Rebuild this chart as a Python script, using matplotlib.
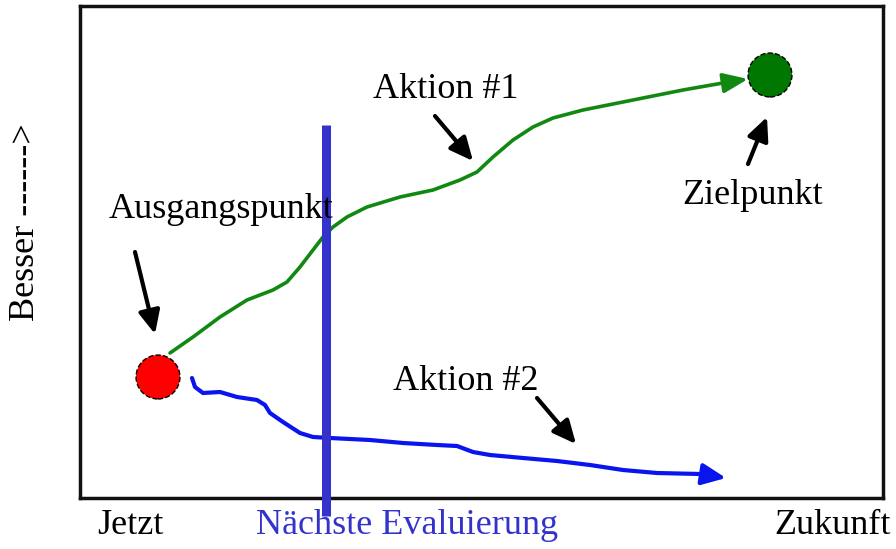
import matplotlib.pyplot as plt

# path of "Aktion #1" (green) and "Aktion #2" (blue), in screen-like units
green_x = [170, 193, 220, 247, 273, 287, 300, 313, 323, 333, 347, 367, 400, 433, 460, 477,
           493, 513, 533, 553, 583, 633, 683, 723, 748]
green_y = [353, 337, 317, 300, 290, 282, 267, 250, 237, 227, 217, 207, 197, 190, 180, 172,
           157, 140, 127, 118, 110, 100, 90, 83, 79]
blue_x = [192, 195, 203, 220, 237, 257, 265, 270, 283, 300, 313, 330, 370, 403, 437, 457,
          473, 490, 523, 557, 590, 623, 657, 700, 726]
blue_y = [378, 387, 393, 392, 397, 400, 405, 413, 422, 433, 437, 438, 440, 443, 445, 446,
          452, 455, 458, 461, 465, 470, 473, 474, 478]

start_pt = (158, 377)
goal_pt = (770, 75)
eval_x = 326

# (label, text x, text y, arrow from, arrow to)
notes = [
    ('Ausgangspunkt', 221, 210, (135, 252), (155, 334)),
    ('Aktion #1', 446, 90, (435, 116), (473, 161)),
    ('Aktion #2', 466, 382, (537, 398), (576, 444)),
    ('Zielpunkt', 753, 196, (748, 164), (767, 117)),
]

plt.rcParams['font.family'] = ['Liberation Serif', 'DejaVu Serif']
fs = 26

fig = plt.figure(figsize=(8.96, 5.49), dpi=100)
ax = fig.add_axes([80 / 896, 1 - 498 / 549, 803 / 896, 492 / 549])
ax.set_xlim(80, 883)
ax.set_ylim(498, 6)
ax.set_xticks([])
ax.set_yticks([])
for s in ax.spines.values():
    s.set_linewidth(2.5)
    s.set_color('#111111')

# green path with arrow head
ax.plot(green_x[:-1], green_y[:-1], color='#118811', lw=2.6, solid_capstyle='round')
ax.annotate('', xy=(green_x[-1], green_y[-1]), xytext=(green_x[-2], green_y[-2]),
            arrowprops=dict(arrowstyle='-|>,head_length=1.5,head_width=0.6', color='#118811',
                            lw=2.6, shrinkA=0, shrinkB=0))

# blue path with arrow head
ax.plot(blue_x[:-1], blue_y[:-1], color='#0a14ee', lw=3, solid_capstyle='round')
ax.annotate('', xy=(blue_x[-1], blue_y[-1]), xytext=(blue_x[-2], blue_y[-2]),
            arrowprops=dict(arrowstyle='-|>,head_length=1.45,head_width=0.65', color='#0a14ee',
                            lw=3, shrinkA=0, shrinkB=0))

# next evaluation line, running past the bottom of the frame
ax.plot([eval_x, eval_x], [125, 516], color='#3333cc', lw=6.5, clip_on=False, zorder=4,
        solid_capstyle='butt')

ax.scatter([start_pt[0]], [start_pt[1]], s=1000, color='#ff0000', edgecolor='black',
           linewidth=1, linestyle='--', zorder=5)
ax.scatter([goal_pt[0]], [goal_pt[1]], s=1000, color='#007700', edgecolor='black',
           linewidth=1, linestyle='--', zorder=5)

for label, tx, ty, a0, a1 in notes:
    ax.text(tx, ty, label, fontsize=fs, ha='center', va='center', color='black', zorder=6)
    ax.annotate('', xy=a1, xytext=a0,
                arrowprops=dict(arrowstyle='-|>,head_length=1.4,head_width=0.65', color='black',
                                lw=3, shrinkA=0, shrinkB=0))

fig.text(130 / 896, 1 - 525 / 549, 'Jetzt', fontsize=fs, ha='center', va='center')
fig.text(407 / 896, 1 - 525 / 549, 'Nächste Evaluierung', fontsize=fs, ha='center', va='center',
         color='#3333cc')
fig.text(833 / 896, 1 - 525 / 549, 'Zukunft', fontsize=fs, ha='center', va='center')
fig.text(25 / 896, 1 - 222 / 549, 'Besser ------>', fontsize=fs, ha='center', va='center',
         rotation=90)

fig.savefig('out.png', dpi=100)
